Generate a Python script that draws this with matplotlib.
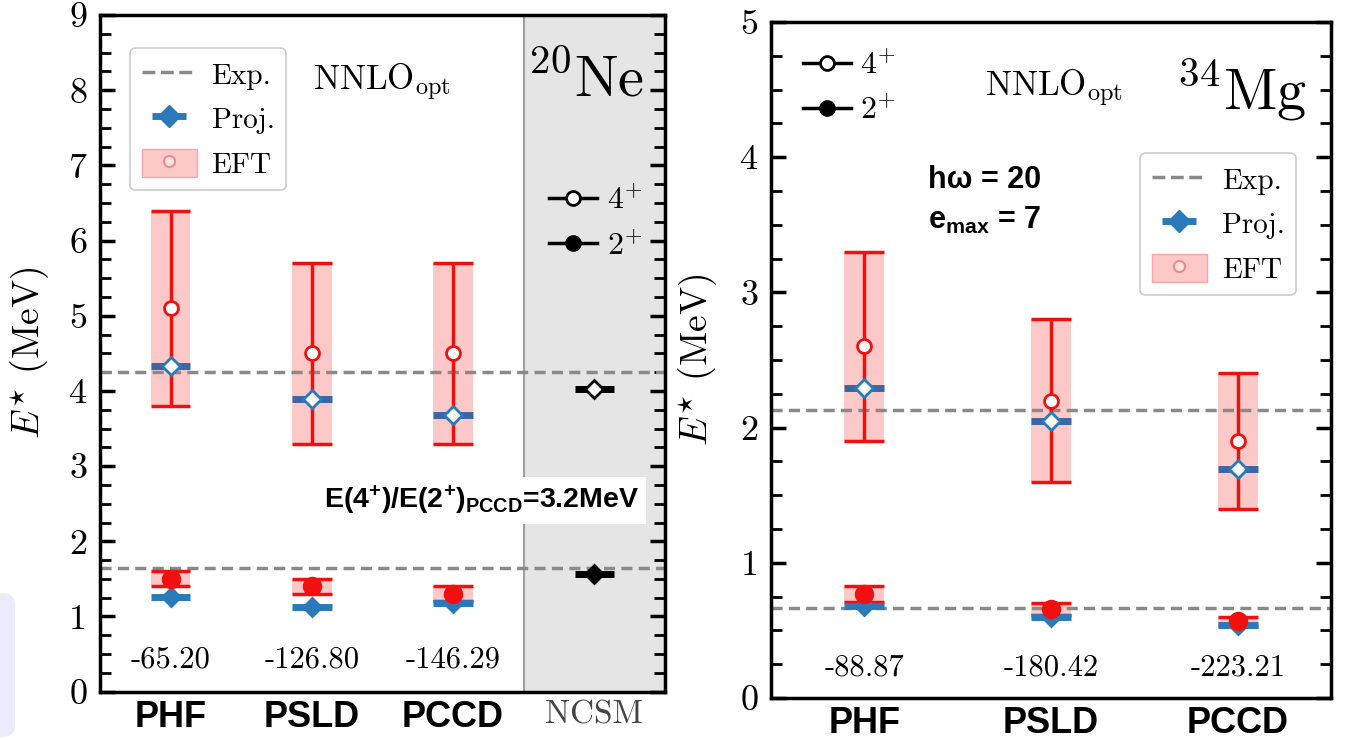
import matplotlib
matplotlib.use('Agg')
import matplotlib.pyplot as plt
from matplotlib.lines import Line2D
from matplotlib.patches import Patch, FancyBboxPatch
from matplotlib.legend_handler import HandlerTuple
from matplotlib.ticker import MultipleLocator

plt.rcParams['font.family'] = ['cmr10', 'DejaVu Serif']
plt.rcParams['mathtext.fontset'] = 'cm'
plt.rcParams['mathtext.rm'] = 'Liberation Sans:bold'
plt.rcParams['mathtext.bf'] = 'Liberation Sans:bold'
plt.rcParams['mathtext.it'] = 'Liberation Sans:bold:italic'
plt.rcParams['axes.unicode_minus'] = False

# ---------------- data ----------------
methods = ['PHF', 'PSLD', 'PCCD']

# 20Ne, NNLO_opt
ne_eft4 = [5.1, 4.5, 4.5]
ne_eft4_lo = [3.8, 3.3, 3.3]
ne_eft4_hi = [6.4, 5.7, 5.7]
ne_proj4 = [4.33, 3.89, 3.68]
ne_eft2 = [1.5, 1.4, 1.3]
ne_eft2_lo = [1.4, 1.3, 1.2]
ne_eft2_hi = [1.6, 1.5, 1.4]
ne_proj2 = [1.26, 1.13, 1.18]
ne_exp = [4.25, 1.64]
ne_ncsm = [4.03, 1.57]   # 4+, 2+
ne_gs = ['-65.20', '-126.80', '-146.29']

# 34Mg, NNLO_opt
mg_eft4 = [2.6, 2.2, 1.9]
mg_eft4_lo = [1.9, 1.6, 1.4]
mg_eft4_hi = [3.3, 2.8, 2.4]
mg_proj4 = [2.29, 2.05, 1.69]
mg_eft2 = [0.77, 0.66, 0.57]
mg_eft2_lo = [0.71, 0.61, 0.53]
mg_eft2_hi = [0.83, 0.70, 0.60]
mg_proj2 = [0.68, 0.60, 0.54]
mg_exp = [2.13, 0.667]
mg_gs = ['-88.87', '-180.42', '-223.21']

# ---------------- styles ----------------
RED = '#f01010'
PINK = '#fdc8c8'
BLUE = '#2a7ab9'
BLUE_DARK = '#3b66a3'
GREY = '#8a8a8a'
SANS = 'Liberation Sans'

fig = plt.figure(figsize=(13.45, 7.4), dpi=100)
ax1 = fig.add_axes([0.0743, 0.0653, 0.4201, 0.9144])
ax2 = fig.add_axes([0.5732, 0.0568, 0.4164, 0.9135])

# soft lavender tab on the left edge
fig.patches.append(FancyBboxPatch((-0.15, 0.03), 0.30, 1.44,
                                  boxstyle='round,pad=0,rounding_size=0.12',
                                  transform=fig.dpi_scale_trans,
                                  facecolor='#ebebfc', edgecolor='none'))


def draw_level(ax, xs, eft, lo, hi, proj, hw, excited4):
    for x, c, l, h, p in zip(xs, eft, lo, hi, proj):
        ax.fill_between([x - hw, x + hw], l, h, color=PINK, lw=0, zorder=1)
        ax.vlines(x, l, h, color=RED, lw=2.5, zorder=3)
        ax.hlines([l, h], x - hw, x + hw, color=RED, lw=2.5, zorder=3)
        ax.hlines(p, x - hw, x + hw, color=BLUE_DARK if excited4 else BLUE,
                  lw=5, zorder=4)
        ax.plot(x, p, marker='D', ms=9, mew=2, mec=BLUE,
                mfc='white' if excited4 else BLUE, zorder=5)
        ax.plot(x, c, marker='o', ms=10 if excited4 else 12, mew=2, mec=RED,
                mfc='white' if excited4 else RED, zorder=6)


def style_axes(ax, ymax):
    ax.set_ylim(0, ymax)
    ax.yaxis.set_major_locator(MultipleLocator(1))
    ax.yaxis.set_minor_locator(MultipleLocator(0.25))
    ax.tick_params(axis='y', which='both', direction='in', left=True, right=True,
                   labelsize=26, pad=9)
    ax.tick_params(axis='y', which='major', length=11, width=2.5)
    ax.tick_params(axis='y', which='minor', length=8, width=2)
    ax.tick_params(axis='x', length=0, pad=6)
    for sp in ax.spines.values():
        sp.set_linewidth(2.5)
    ax.set_ylabel(r'$E^{\star}$ (MeV)', fontsize=27)


def main_legend(ax, anchor):
    h_exp = Line2D([], [], color=GREY, ls='--', lw=2.5)
    h_proj = (Line2D([], [], color=BLUE, lw=0, marker='_', ms=24, mew=5),
              Line2D([], [], color=BLUE, lw=0, marker='D', ms=11, mec=BLUE))
    h_eft = (Patch(facecolor=PINK, edgecolor='#f5a8a8', lw=1),
             Line2D([], [], lw=0, marker='o', ms=8, mfc='#fde0e0',
                    mec='#f08a8a', mew=1.5))
    leg = ax.legend([h_exp, h_proj, h_eft], ['Exp.', 'Proj.', 'EFT'],
                    loc='upper left', bbox_to_anchor=anchor, borderaxespad=0,
                    fontsize=21, handlelength=1.9, handleheight=1.1,
                    labelspacing=0.5, handletextpad=0.5, fancybox=True,
                    framealpha=1, edgecolor='#cccccc',
                    handler_map={tuple: HandlerTuple(ndivide=1, pad=0)})
    leg.get_frame().set_linewidth(1.2)
    leg.set_zorder(10)
    return leg


def state_legend(ax, anchor):
    h4 = Line2D([], [], color='k', lw=2.5, marker='o', ms=10, mfc='white',
                mec='k', mew=2)
    h2 = Line2D([], [], color='k', lw=2.5, marker='o', ms=10, mfc='k',
                mec='k', mew=2)
    leg = ax.legend([h4, h2], [r'$4^{+}$', r'$2^{+}$'], loc='upper left',
                    bbox_to_anchor=anchor, borderaxespad=0, borderpad=0,
                    frameon=False, fontsize=23, handlelength=1.5,
                    handletextpad=0.3, labelspacing=0.5)
    for t in leg.get_texts():
        t.set_math_fontfamily('cm')
    return leg


# ---------------- 20Ne ----------------
xs = list(range(len(methods)))
hw1 = 0.14
ax1.set_xlim(-0.5, 3.5)
ax1.axvspan(2.5, 3.5, color='#e5e5e5', lw=0, zorder=0)
ax1.axvline(2.5, color='#a0a0a0', lw=1.5, zorder=0.5)
for v in ne_exp:
    ax1.axhline(v, color=GREY, ls='--', lw=2.5, dashes=(3.2, 1.8), zorder=2)
draw_level(ax1, xs, ne_eft4, ne_eft4_lo, ne_eft4_hi, ne_proj4, hw1, True)
draw_level(ax1, xs, ne_eft2, ne_eft2_lo, ne_eft2_hi, ne_proj2, hw1, False)
for val, fill in zip(ne_ncsm, ['white', 'k']):
    ax1.hlines(val, 3 - hw1, 3 + hw1, color='k', lw=5, zorder=4)
    ax1.plot(3, val, marker='D', ms=9, mew=2, mec='k', mfc=fill, zorder=5)
for x, s in zip(xs, ne_gs):
    ax1.text(x, 0.43, s, ha='center', va='center', fontsize=22)
style_axes(ax1, 9)
ax1.yaxis.set_label_coords(-0.085, 0.5)
ax1.set_xticks([0, 1, 2, 3])
ax1.set_xticklabels(methods + ['NCSM'])
for i, lab in enumerate(ax1.get_xticklabels()):
    if i < 3:
        lab.set_fontfamily(SANS)
        lab.set_fontweight('bold')
        lab.set_fontsize(26)
    else:
        lab.set_fontsize(24)
        lab.set_color('#444444')

leg1 = main_legend(ax1, (0.053, 0.951))
ax1.add_artist(leg1)
state_legend(ax1, (0.795, 0.748))

ax1.text(0.499, 0.9, r'$\mathrm{NNLO}_{\mathrm{opt}}$', transform=ax1.transAxes,
         ha='center', va='center', fontsize=25)
ax1.text(0.86, 0.905, r'$^{20}\mathrm{Ne}$', transform=ax1.transAxes,
         ha='center', va='center', fontsize=42)
ax1.text(0.675, 0.283, r'E(4$^{+}$)/E(2$^{+}$)$_{\mathbf{PCCD}}$=3.2MeV',
         transform=ax1.transAxes, ha='center', va='center', fontsize=20.5,
         fontfamily=SANS, fontweight='bold', math_fontfamily='custom',
         bbox=dict(facecolor='white', edgecolor='none', pad=5), zorder=12)

# ---------------- 34Mg ----------------
hw2 = 0.108
ax2.set_xlim(-0.5, 2.5)
for v in mg_exp:
    ax2.axhline(v, color=GREY, ls='--', lw=2.5, dashes=(3.2, 1.8), zorder=2)
draw_level(ax2, xs, mg_eft4, mg_eft4_lo, mg_eft4_hi, mg_proj4, hw2, True)
draw_level(ax2, xs, mg_eft2, mg_eft2_lo, mg_eft2_hi, mg_proj2, hw2, False)
for x, s in zip(xs, mg_gs):
    ax2.text(x, 0.22, s, ha='center', va='center', fontsize=22)
style_axes(ax2, 5)
ax2.yaxis.set_label_coords(-0.091, 0.5)
ax2.set_xticks(xs)
ax2.set_xticklabels(methods)
for lab in ax2.get_xticklabels():
    lab.set_fontfamily(SANS)
    lab.set_fontweight('bold')
    lab.set_fontsize(26)

leg2 = main_legend(ax2, (0.659, 0.806))
ax2.add_artist(leg2)
state_legend(ax2, (0.057, 0.958))

ax2.text(0.505, 0.902, r'$\mathrm{NNLO}_{\mathrm{opt}}$', transform=ax2.transAxes,
         ha='center', va='center', fontsize=25)
ax2.text(0.84, 0.9, r'$^{34}\mathrm{Mg}$', transform=ax2.transAxes,
         ha='center', va='center', fontsize=42)
ax2.text(0.28, 0.766, 'h\u03c9 = 20', transform=ax2.transAxes, ha='left',
         va='center', fontsize=22, fontfamily=SANS, fontweight='bold')
ax2.text(0.28, 0.707, r'e$_{\mathbf{max}}$ = 7', transform=ax2.transAxes,
         ha='left', va='center', fontsize=22, fontfamily=SANS,
         fontweight='bold', math_fontfamily='custom')

fig.savefig('out.png', dpi=100)
